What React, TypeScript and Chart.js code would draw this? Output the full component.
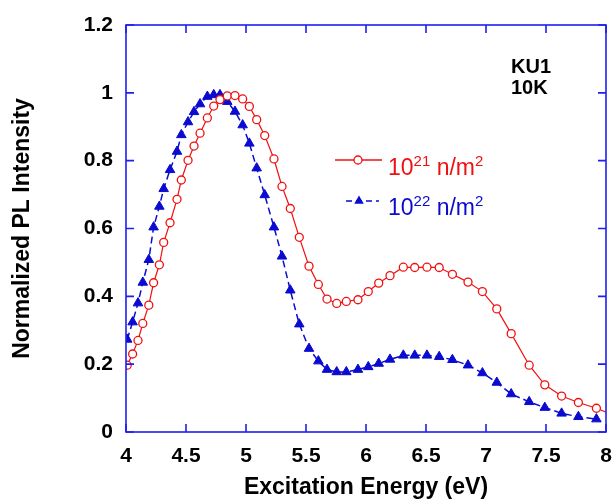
import React, { useEffect, useRef } from "react";
import { Chart, registerables } from "chart.js";

Chart.register(...registerables);

// Excitation energy (eV) of each sample
const energy = [
  4.01, 4.055, 4.1, 4.14, 4.19, 4.23, 4.278, 4.314, 4.367, 4.425,
  4.461, 4.517, 4.567, 4.617, 4.678, 4.731, 4.783, 4.844, 4.908, 4.972,
  5.028, 5.089, 5.156, 5.233, 5.3, 5.369, 5.444, 5.525, 5.603, 5.675,
  5.756, 5.836, 5.933, 6.019, 6.106, 6.2, 6.311, 6.406, 6.508, 6.61,
  6.72, 6.85, 6.97, 7.09, 7.21, 7.36, 7.49, 7.63, 7.77, 7.92,
];

// 10^21 n/m^2 (red, open circles)
const pl21 = [
  0.197, 0.23, 0.27, 0.32, 0.374, 0.44, 0.493, 0.559, 0.617, 0.686,
  0.743, 0.801, 0.843, 0.881, 0.926, 0.961, 0.98, 0.991, 0.992, 0.982,
  0.96, 0.921, 0.874, 0.805, 0.724, 0.659, 0.574, 0.489, 0.435, 0.392,
  0.379, 0.385, 0.39, 0.414, 0.439, 0.461, 0.486, 0.485, 0.486, 0.485,
  0.465, 0.442, 0.414, 0.363, 0.29, 0.197, 0.139, 0.106, 0.087, 0.07,
];
// red curve continues past the right edge of the frame
const pl21TailEnergy = [8.06];
const pl21Tail = [0.05];

// 10^22 n/m^2 (blue, filled triangles)
const pl22 = [
  0.273, 0.324, 0.38, 0.441, 0.508, 0.604, 0.665, 0.717, 0.773, 0.827,
  0.876, 0.914, 0.944, 0.967, 0.989, 0.994, 0.994, 0.974, 0.945, 0.905,
  0.851, 0.778, 0.699, 0.604, 0.518, 0.418, 0.318, 0.246, 0.209, 0.184,
  0.177, 0.177, 0.184, 0.192, 0.202, 0.214, 0.226, 0.226, 0.226, 0.222,
  0.213, 0.197, 0.174, 0.146, 0.112, 0.089, 0.072, 0.055, 0.045, 0.038,
];

const xTickLabels = ["4", "4.5", "5", "5.5", "6", "6.5", "7", "7.5", "8"];
const yTickLabels = ["0", "0.2", "0.4", "0.6", "0.8", "1", "1.2"];

const FONT = "'Liberation Sans', Arial, Helvetica, sans-serif";
const AXIS_COLOR = "#1f1ff0";
const RED = "#f01010";
const BLUE = "#0a0ad0";

const labelFor = (labels: string[], v: number) =>
  labels.find((l) => Math.abs(parseFloat(l) - v) < 1e-6) ?? "";

const framePlugin = {
  id: "frame",
  afterDatasetsDraw(chart: any) {
    const { ctx, chartArea: a, scales } = chart;
    const T = 8;
    ctx.save();
    ctx.strokeStyle = AXIS_COLOR;
    ctx.lineWidth = 1.6;
    ctx.strokeRect(a.left, a.top, a.right - a.left, a.bottom - a.top);
    ctx.beginPath();
    for (const t of scales.x.ticks) {
      const px = scales.x.getPixelForValue(t.value);
      ctx.moveTo(px, a.bottom);
      ctx.lineTo(px, a.bottom - T);
      ctx.moveTo(px, a.top);
      ctx.lineTo(px, a.top + T);
    }
    for (const t of scales.y.ticks) {
      const py = scales.y.getPixelForValue(t.value);
      ctx.moveTo(a.left, py);
      ctx.lineTo(a.left + T, py);
      ctx.moveTo(a.right, py);
      ctx.lineTo(a.right - T, py);
    }
    ctx.stroke();
    ctx.restore();
  },
};

function drawSup(
  ctx: CanvasRenderingContext2D,
  x: number,
  y: number,
  parts: [string, boolean][],
  color: string
) {
  ctx.fillStyle = color;
  ctx.textBaseline = "alphabetic";
  ctx.textAlign = "left";
  let cx = x;
  for (const [txt, sup] of parts) {
    ctx.font = sup ? `15px ${FONT}` : `23px ${FONT}`;
    ctx.fillText(txt, cx, sup ? y - 9 : y);
    cx += ctx.measureText(txt).width;
  }
}

const annotationPlugin = {
  id: "annot",
  afterDraw(chart: any) {
    const ctx: CanvasRenderingContext2D = chart.ctx;
    ctx.save();
    // red legend entry
    ctx.strokeStyle = RED;
    ctx.lineWidth = 1.3;
    ctx.beginPath();
    ctx.moveTo(335, 160);
    ctx.lineTo(382, 160);
    ctx.stroke();
    ctx.beginPath();
    ctx.arc(358, 160, 4, 0, Math.PI * 2);
    ctx.fillStyle = "#fff";
    ctx.fill();
    ctx.stroke();
    drawSup(ctx, 388, 175, [["10", false], ["21", true], [" n/m", false], ["2", true]], RED);

    // blue legend entry
    ctx.strokeStyle = BLUE;
    ctx.lineWidth = 1.5;
    ctx.setLineDash([6, 4]);
    ctx.beginPath();
    ctx.moveTo(346, 201);
    ctx.lineTo(379, 201);
    ctx.stroke();
    ctx.setLineDash([]);
    ctx.fillStyle = BLUE;
    ctx.beginPath();
    const r = 5.5;
    ctx.moveTo(359, 201 - r);
    ctx.lineTo(359 + r * 0.866, 201 + r * 0.5);
    ctx.lineTo(359 - r * 0.866, 201 + r * 0.5);
    ctx.closePath();
    ctx.fill();
    drawSup(ctx, 388, 215, [["10", false], ["22", true], [" n/m", false], ["2", true]], BLUE);

    // sample label
    ctx.fillStyle = "#000";
    ctx.font = `bold 20px ${FONT}`;
    ctx.fillText("KU1", 511, 73);
    ctx.fillText("10K", 511, 94);
    ctx.restore();
  },
};

export default function App() {
  const ref = useRef<HTMLCanvasElement | null>(null);

  useEffect(() => {
    if (!ref.current) return;
    Chart.defaults.font.family = FONT;
    const redData = energy
      .map((e, i) => ({ x: e, y: pl21[i] }))
      .concat(pl21TailEnergy.map((e, i) => ({ x: e, y: pl21Tail[i] })));
    const blueData = energy.map((e, i) => ({ x: e, y: pl22[i] }));

    const chart = new Chart(ref.current, {
      type: "line",
      data: {
        datasets: [
          {
            label: "10^21 n/m^2",
            data: redData,
            borderColor: RED,
            borderWidth: 1.2,
            pointStyle: "circle",
            pointRadius: 4,
            pointBackgroundColor: "#ffffff",
            pointBorderColor: RED,
            pointBorderWidth: 1.3,
            tension: 0,
          },
          {
            label: "10^22 n/m^2",
            data: blueData,
            borderColor: BLUE,
            borderWidth: 1.5,
            borderDash: [7, 4],
            pointStyle: "triangle",
            pointRadius: 5.5,
            pointBackgroundColor: BLUE,
            pointBorderColor: BLUE,
            pointBorderWidth: 1,
            tension: 0,
          },
        ],
      },
      options: {
        animation: false,
        responsive: false,
        parsing: false as any,
        layout: { padding: { left: 0, top: 25, right: 8, bottom: 0 } },
        plugins: {
          legend: { display: false },
          tooltip: { enabled: false },
        },
        scales: {
          x: {
            type: "linear",
            min: 4,
            max: 8,
            grid: { display: false, drawTicks: false },
            border: { display: false },
            ticks: {
              stepSize: 0.5,
              autoSkip: false,
              maxRotation: 0,
              padding: 12,
              color: "#000",
              font: { size: 21, weight: "bold" },
              callback: (v: any) => labelFor(xTickLabels, Number(v)),
            },
            title: {
              display: true,
              text: "Excitation Energy (eV)",
              color: "#000",
              font: { size: 23, weight: "bold", lineHeight: 1 },
              padding: { top: 0, bottom: 4 },
            },
            afterFit: (s: any) => {
              s.height = 71;
              s.paddingLeft = 0;
              s.paddingRight = 0;
            },
          },
          y: {
            type: "linear",
            min: 0,
            max: 1.2,
            grid: { display: false, drawTicks: false },
            border: { display: false },
            ticks: {
              stepSize: 0.2,
              autoSkip: false,
              padding: 13,
              color: "#000",
              font: { size: 21, weight: "bold" },
              callback: (v: any) => labelFor(yTickLabels, Number(v)),
            },
            title: {
              display: true,
              text: "Normalized PL Intensity",
              color: "#000",
              font: { size: 23, weight: "bold", lineHeight: 1 },
              padding: { top: 11, bottom: 0 },
            },
            afterFit: (s: any) => {
              s.width = 126;
              s.paddingTop = 0;
              s.paddingBottom = 0;
            },
          },
        },
      },
      plugins: [framePlugin, annotationPlugin],
    });
    return () => chart.destroy();
  }, []);

  return (
    <div style={{ position: "fixed", left: 0, top: 0, width: 614, height: 503, background: "#fff" }}>
      <canvas ref={ref} width={614} height={503} style={{ display: "block" }} />
    </div>
  );
}
